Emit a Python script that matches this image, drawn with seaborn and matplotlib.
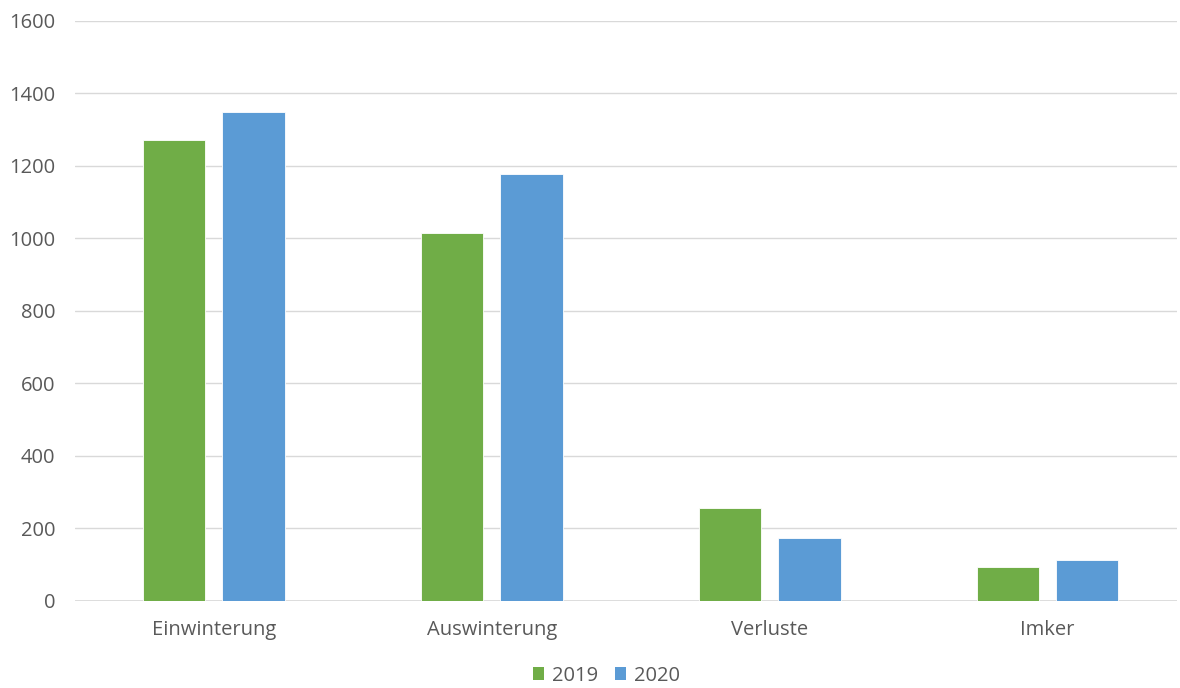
import matplotlib
matplotlib.use("Agg")
import matplotlib.pyplot as plt
import seaborn as sns
import pandas as pd
from matplotlib.patches import Patch

categories = ["Einwinterung", "Auswinterung", "Verluste", "Imker"]
years = ["2019", "2020"]
values_2019 = [1273, 1015, 256, 94]
values_2020 = [1350, 1177, 175, 113]
yticks = [0, 200, 400, 600, 800, 1000, 1200, 1400, 1600]

colors = {"2019": "#70AD47", "2020": "#5B9BD5"}
text_color = "#595959"
grid_color = "#D9D9D9"

df = pd.DataFrame({
    "Kategorie": categories * 2,
    "Jahr": [years[0]] * len(categories) + [years[1]] * len(categories),
    "Wert": values_2019 + values_2020,
})

sns.set_style("white")
plt.rcParams["font.family"] = ["Open Sans", "DejaVu Sans"]

fig = plt.figure(figsize=(11.8, 6.88), dpi=100)
ax = fig.add_axes([0.0636, 0.1265, 0.9339, 0.843])

sns.barplot(data=df, x="Kategorie", y="Wert", hue="Jahr", order=categories,
            hue_order=years, palette=colors, width=0.572, gap=0.215,
            edgecolor="white", linewidth=0.6, saturation=1, ax=ax, legend=False)

ax.set_ylim(0, 1600)
ax.set_xlim(-0.499, 3.466)
ax.set_yticks(yticks)
ax.set_yticklabels([str(v) for v in yticks])
ax.yaxis.grid(True, color=grid_color, linewidth=1)
ax.set_axisbelow(True)
for s in ax.spines.values():
    s.set_visible(False)
ax.axhline(0, color=grid_color, linewidth=1.2, zorder=0.5)
ax.set_xlabel("")
ax.set_ylabel("")
ax.tick_params(axis="both", length=0, labelsize=14.5, colors=text_color)
ax.tick_params(axis="y", pad=14)
ax.tick_params(axis="x", pad=14)

handles = [Patch(facecolor=colors[y], edgecolor="none") for y in years]
fig.legend(handles, years, loc="center", bbox_to_anchor=(0.514, 0.018),
           ncol=2, frameon=False, fontsize=14.5, labelcolor=text_color,
           handlelength=0.55, handleheight=0.55, handletextpad=0.4, columnspacing=0.85)

fig.savefig("out.png", dpi=100)
